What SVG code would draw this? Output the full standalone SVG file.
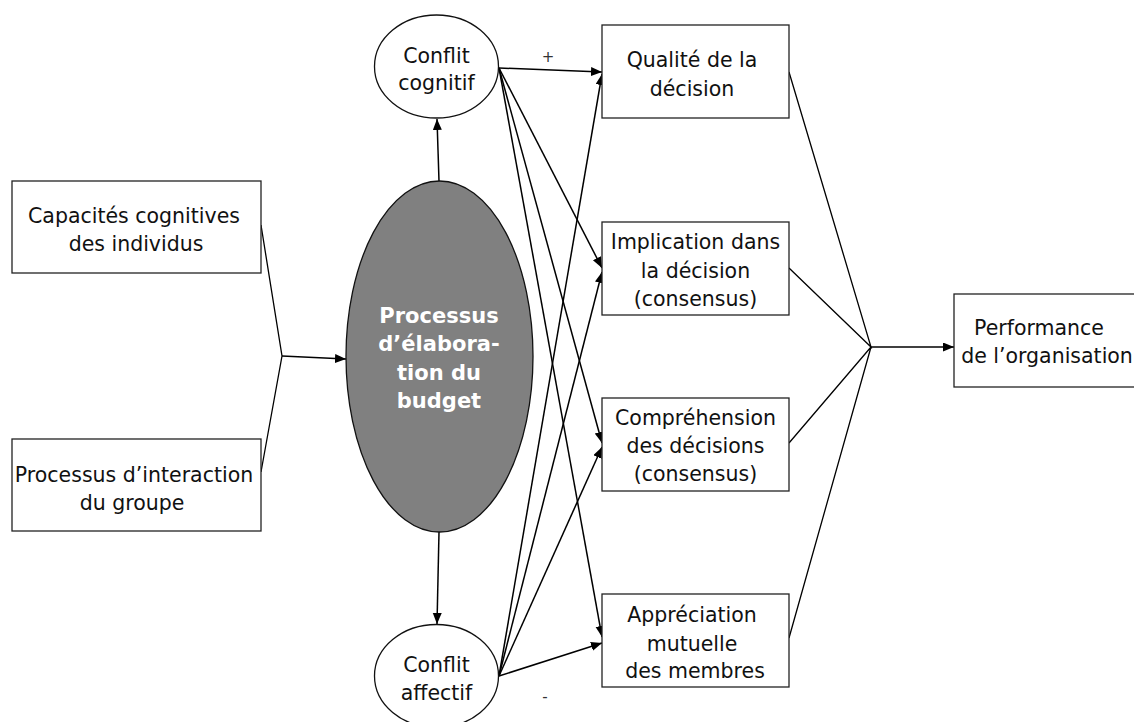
<svg xmlns="http://www.w3.org/2000/svg" width="1134" height="722" viewBox="0 0 1134 722">
<style>
.box{fill:#fff;stroke:#222;stroke-width:1.3}
.ell{fill:#fff;stroke:#111;stroke-width:1.3}
.gray{fill:#808080;stroke:#111;stroke-width:1.3}
.t{font-family:"DejaVu Sans",Verdana,sans-serif;font-size:20.5px;fill:#111;text-anchor:middle}
.tw{font-family:"DejaVu Sans",Verdana,sans-serif;font-size:21px;font-weight:bold;fill:#fff;text-anchor:middle}
.lbl{font-family:"DejaVu Sans",sans-serif;font-size:15px;fill:#333;text-anchor:middle}
.c{fill:none;stroke:#000;stroke-width:1.3}
.a{fill:none;stroke:#000;stroke-width:1.5;marker-end:url(#ah)}
</style>
<defs>
<marker id="ah" markerUnits="userSpaceOnUse" markerWidth="12" markerHeight="10" refX="11" refY="4.5" orient="auto">
<path d="M0,0 L11,4.5 L0,9 z" fill="#000"/>
</marker>
</defs>
<rect width="1134" height="722" fill="#fff"/>
<g id="connectors">
<polyline class="c" points="261,225 282,356 261,472"/>
<line class="a" x1="282" y1="356" x2="346" y2="359"/>
<line class="a" x1="439" y1="181" x2="437" y2="119"/>
<line class="a" x1="439" y1="532" x2="437" y2="624"/>
<line class="a" x1="499" y1="68" x2="602" y2="72"/>
<line class="a" x1="499" y1="68" x2="602" y2="268"/>
<line class="a" x1="499" y1="68" x2="602" y2="443"/>
<line class="a" x1="499" y1="68" x2="602" y2="637"/>
<line class="a" x1="499" y1="676" x2="602" y2="74"/>
<line class="a" x1="499" y1="676" x2="602" y2="272"/>
<line class="a" x1="499" y1="676" x2="602" y2="447"/>
<line class="a" x1="499" y1="676" x2="602" y2="643"/>
<polyline class="c" points="789,72 871,347 789,268"/>
<polyline class="c" points="789,443 871,347 789,638"/>
<line class="a" x1="871" y1="347" x2="954" y2="347"/>
<text class="lbl" x="548" y="62">+</text>
<text class="lbl" x="545" y="702">-</text>
</g>
<g id="capacites">
<rect class="box" x="12" y="181" width="249" height="92"/>
<text class="t" x="134" y="223">Capacités cognitives</text>
<text class="t" x="136" y="251">des individus</text>
</g>
<g id="interaction">
<rect class="box" x="12" y="439" width="249" height="92"/>
<text class="t" x="134" y="482">Processus d’interaction</text>
<text class="t" x="132" y="510">du groupe</text>
</g>
<g id="processus">
<ellipse class="gray" cx="439.5" cy="356.5" rx="93.5" ry="175.5"/>
<text class="tw" x="439" y="323">Processus</text>
<text class="tw" x="439" y="351">d’élabora-</text>
<text class="tw" x="439" y="380">tion du</text>
<text class="tw" x="439" y="408">budget</text>
</g>
<g id="cognitif">
<ellipse class="ell" cx="436.5" cy="66.5" rx="62" ry="51.5"/>
<text class="t" x="436.5" y="63">Conflit</text>
<text class="t" x="436.5" y="90">cognitif</text>
</g>
<g id="affectif">
<ellipse class="ell" cx="436.5" cy="676" rx="62" ry="51.5"/>
<text class="t" x="436.5" y="672">Conflit</text>
<text class="t" x="436.5" y="700">affectif</text>
</g>
<g id="qualite">
<rect class="box" x="602" y="25" width="187" height="93"/>
<text class="t" x="692" y="67">Qualité de la</text>
<text class="t" x="692" y="96">décision</text>
</g>
<g id="implication">
<rect class="box" x="602" y="222" width="187" height="93"/>
<text class="t" x="695.5" y="249">Implication dans</text>
<text class="t" x="695.5" y="278">la décision</text>
<text class="t" x="695.5" y="306">(consensus)</text>
</g>
<g id="comprehension">
<rect class="box" x="602" y="398" width="187" height="93"/>
<text class="t" x="695.5" y="425">Compréhension</text>
<text class="t" x="695.5" y="453">des décisions</text>
<text class="t" x="695.5" y="481">(consensus)</text>
</g>
<g id="appreciation">
<rect class="box" x="602" y="594" width="187" height="93"/>
<text class="t" x="692" y="622">Appréciation</text>
<text class="t" x="692" y="651">mutuelle</text>
<text class="t" x="695" y="678">des membres</text>
</g>
<g id="performance">
<rect class="box" x="954" y="294" width="200" height="93"/>
<text class="t" x="1039" y="335">Performance</text>
<text class="t" x="1047" y="363">de l’organisation</text>
</g>
</svg>
